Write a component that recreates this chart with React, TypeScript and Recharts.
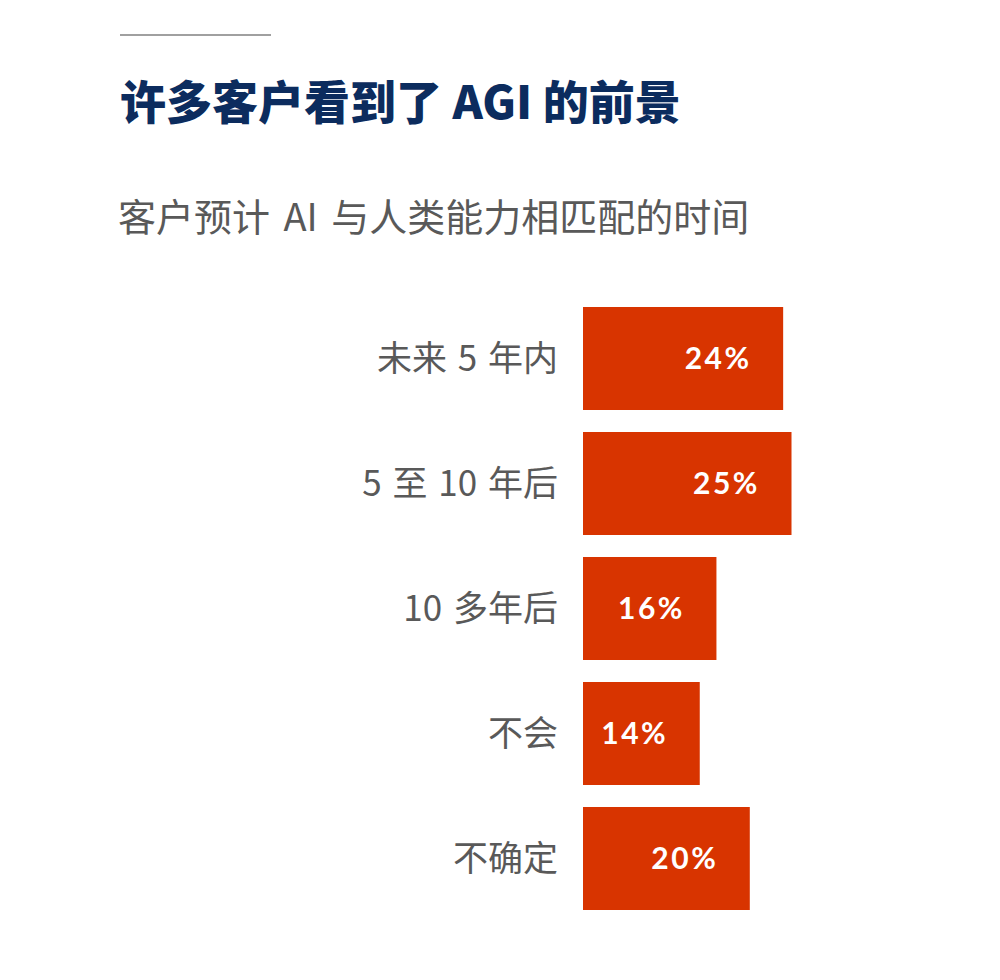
import React from 'react';
import { BarChart, Bar, XAxis, YAxis, LabelList } from 'recharts';

const categories = ['未来 5 年内', '5 至 10 年后', '10 多年后', '不会', '不确定'];
const shares = [24, 25, 16, 14, 20];
const shareLabels = ['24%', '25%', '16%', '14%', '20%'];

const data = categories.map((c, i) => ({ name: c, value: shares[i], label: shareLabels[i] }));

const BAR_COLOR = '#D83400';

const InnerLabel = (props: any) => {
  const { x, y, width, height, index } = props;
  return (
    <text
      x={x + width - 65}
      y={y + height / 2}
      dy="0.36em"
      textAnchor="middle"
      fill="#ffffff"
      fontFamily="Lato, 'Noto Sans', sans-serif"
      fontWeight={700}
      fontSize={30}
      letterSpacing={2.5}
    >
      {shareLabels[index]}
    </text>
  );
};

export default function App() {
  return (
    <div style={{ position: 'absolute', left: 0, top: 0, width: 1000, height: 980, background: '#ffffff', overflow: 'hidden' }}>
      <div style={{ position: 'absolute', left: 120, top: 34, width: 151, height: 2, background: '#a0a0a0' }} />
      <div
        style={{
          position: 'absolute',
          left: 120,
          top: 76,
          fontFamily: "'Noto Sans CJK SC', sans-serif",
          fontWeight: 900,
          fontSize: 46,
          lineHeight: 1,
          color: '#0C2C5E',
          whiteSpace: 'nowrap',
        }}
      >
        许多客户看到了 AGI 的前景
      </div>
      <div
        style={{
          position: 'absolute',
          left: 118,
          top: 196,
          fontFamily: "'Noto Sans CJK SC', sans-serif",
          fontWeight: 400,
          fontSize: 38,
          lineHeight: 1,
          wordSpacing: 5,
          color: '#595959',
          whiteSpace: 'nowrap',
        }}
      >
        客户预计 AI 与人类能力相匹配的时间
      </div>
      <div style={{ position: 'absolute', left: 0, top: 0 }}>
        <BarChart
          width={1000}
          height={980}
          data={data}
          layout="vertical"
          margin={{ top: 296, right: 0, bottom: 59, left: 0 }}
        >
          <XAxis type="number" hide domain={[0, 50]} />
          <YAxis
            type="category"
            dataKey="name"
            width={583}
            axisLine={false}
            tickLine={false}
            tickSize={0}
            tickMargin={25}
            tick={{ fill: '#595959', fontSize: 35, fontFamily: "'Noto Sans CJK SC', sans-serif", wordSpacing: 3 }}
          />
          <Bar dataKey="value" fill={BAR_COLOR} barSize={103} isAnimationActive={false}>
            <LabelList dataKey="label" content={<InnerLabel />} />
          </Bar>
        </BarChart>
      </div>
    </div>
  );
}
